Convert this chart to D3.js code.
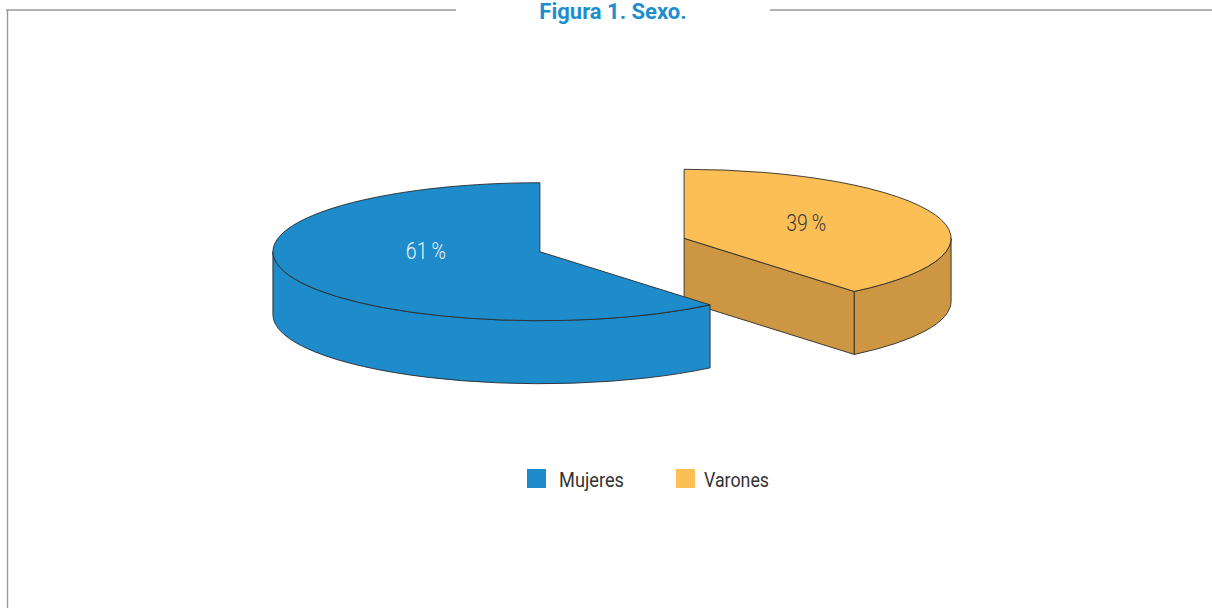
<!DOCTYPE html>
<html>
<head>
<meta charset="utf-8">
<script src="https://cdn.jsdelivr.net/npm/d3@7"></script>
<style>
body { margin: 0; background: #fff; }
</style>
</head>
<body>
<div id="viz"></div>
<script>
var categories = ["Mujeres", "Varones"];
var values = [61, 39];
var labels = ["61\u2009%", "39\u2009%"];
var title = "Figura 1. Sexo.";

var topColors = ["#1e8bcb", "#fcbf55"],
    sideColors = ["#1e8bcb", "#cd9642"],
    labelColors = ["#eef4fa", "#3a3a3a"];

var width = 1212, height = 608,
    cx = 612, cy = 245,          // pie centre before exploding
    rx = 267, ry = 69,           // ellipse radii of the top face
    depth = 63, explode = 0.287;

var svg = d3.select('#viz').append('svg')
    .attr("width", width)
    .attr("height", height);

// frame round the figure
svg.append('path')
    .attr('d', 'M6,10H456M770,10H1212M7.5,10V608')
    .attr('fill', 'none')
    .attr('stroke', '#9a9a9a')
    .attr('stroke-width', 1.4);

svg.append('text')
    .attr('x', 613)
    .attr('y', 19)
    .attr('text-anchor', 'middle')
    .style('font-family', 'Roboto, sans-serif')
    .style('font-weight', 'bold')
    .style('font-size', '22px')
    .attr('fill', '#1b8ecf')
    .text(title);

var total = d3.sum(values);
var a0 = -2 * Math.PI * values[0] / total;
var pie = d3.pie().sort(null).startAngle(a0).endAngle(a0 + 2 * Math.PI);
var slices = pie(values);

function pt(c, a, dz) {
    return [c.x + rx * Math.sin(a), c.y - ry * Math.cos(a) + (dz || 0)];
}

slices.forEach(function(s) {
    var mid = (s.startAngle + s.endAngle) / 2;
    s.mid = mid;
    s.c = { x: cx + rx * explode * Math.sin(mid), y: cy - ry * explode * Math.cos(mid) };
});

// back slices first
var order = slices.slice().sort(function(a, b) { return a.c.y - b.c.y; });

var pieG = svg.append('g')
    .attr('stroke', '#2b2b2b')
    .attr('stroke-width', 0.9)
    .attr('stroke-linejoin', 'round');

order.forEach(function(s) {
    var g = pieG.append('g');
    var c = s.c, i = s.index;

    // radial faces
    [[s.startAngle, -1], [s.endAngle, 1]].forEach(function(e) {
        if (e[1] * Math.sin(e[0]) > 0.001) {
            var p = pt(c, e[0]);
            var path = d3.path();
            path.moveTo(c.x, c.y);
            path.lineTo(p[0], p[1]);
            path.lineTo(p[0], p[1] + depth);
            path.lineTo(c.x, c.y + depth);
            path.closePath();
            g.append('path').attr('d', path.toString()).attr('fill', sideColors[i]);
        }
    });

    // outer curved side, front half only
    [[Math.PI / 2, 3 * Math.PI / 2], [-3 * Math.PI / 2, -Math.PI / 2]].forEach(function(r) {
        var lo = Math.max(r[0], s.startAngle), hi = Math.min(r[1], s.endAngle);
        if (hi - lo > 0.001) {
            var p0 = pt(c, lo), p1 = pt(c, hi);
            var large = (hi - lo) > Math.PI ? 1 : 0;
            var dstr = 'M' + p0 + 'A' + rx + ',' + ry + ' 0 ' + large + ' 1 ' + p1 +
                'L' + p1[0] + ',' + (p1[1] + depth) +
                'A' + rx + ',' + ry + ' 0 ' + large + ' 0 ' + p0[0] + ',' + (p0[1] + depth) + 'Z';
            g.append('path').attr('d', dstr).attr('fill', sideColors[i]);
        }
    });

    // top face
    var ps = pt(c, s.startAngle), pe = pt(c, s.endAngle);
    var lg = (s.endAngle - s.startAngle) > Math.PI ? 1 : 0;
    g.append('path')
        .attr('d', 'M' + c.x + ',' + c.y + 'L' + ps + 'A' + rx + ',' + ry + ' 0 ' + lg + ' 1 ' + pe + 'Z')
        .attr('fill', topColors[i]);
});

// percentage labels
svg.selectAll('.pct')
    .data(slices)
    .enter().append('text')
        .attr('class', 'pct')
        .attr('x', function(d) { return d.c.x + rx * 0.47 * Math.sin(d.mid) + 4 - 20; })
        .attr('y', function(d) { return d.c.y - ry * 0.31 * Math.cos(d.mid); })
        .attr('textLength', 40)
        .attr('lengthAdjust', 'spacingAndGlyphs')
        .style('font-family', 'Roboto, sans-serif')
        .style('font-weight', 300)
        .style('font-size', '23px')
        .attr('fill', function(d) { return labelColors[d.index]; })
        .text(function(d) { return labels[d.index]; });

// legend
var lx = d3.scalePoint().domain(categories).range([527, 676]);

var leg = svg.selectAll('.leg')
    .data(categories)
    .enter().append('g')
        .attr('class', 'leg')
        .attr('transform', function(d) { return 'translate(' + lx(d) + ',469)'; });

leg.append('rect')
    .attr('width', 19)
    .attr('height', 19)
    .attr('fill', function(d, i) { return topColors[i]; });

leg.append('text')
    .attr('x', function(d, i) { return i ? 28 : 32; })
    .attr('y', 18)
    .attr('textLength', 65)
    .attr('lengthAdjust', 'spacingAndGlyphs')
    .style('font-family', 'Roboto, sans-serif')
    .style('font-size', '20px')
    .attr('fill', '#333')
    .text(function(d) { return d; });
</script>
</body>
</html>
